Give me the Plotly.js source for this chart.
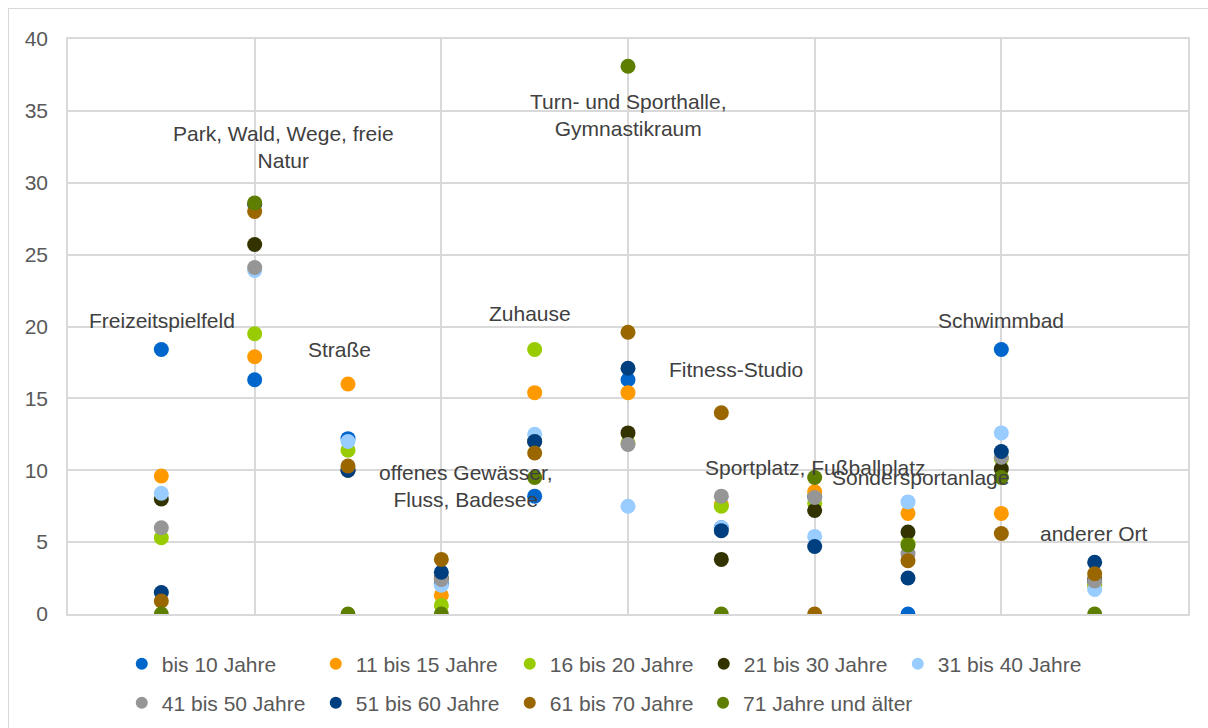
<!DOCTYPE html>
<html>
<head>
<meta charset="utf-8">
<script src="https://cdn.plot.ly/plotly-3.0.1.min.js"></script>
<style>
html, body { margin: 0; padding: 0; overflow: hidden; background: #fff; }
#chart { width: 1208px; height: 728px; }
#frame { position: absolute; left: 8px; top: 8px; width: 1300px; height: 800px; border: 1.5px solid #d9d9d9; pointer-events: none; }
</style>
</head>
<body>
<div id="chart"></div>
<div id="frame"></div>
<script>
// Places (categories) in order along the x axis
const places = [
  "Freizeitspielfeld",
  "Park, Wald, Wege, freie<br>Natur",
  "Straße",
  "offenes Gewässer,<br>Fluss, Badesee",
  "Zuhause",
  "Turn- und Sporthalle,<br>Gymnastikraum",
  "Fitness-Studio",
  "Sportplatz, Fußballplatz",
  "Sondersportanlage",
  "Schwimmbad",
  "anderer Ort"
];
const placeIndex = [1, 2, 3, 4, 5, 6, 7, 8, 9, 10, 11];

const seriesNames = [
  "bis 10 Jahre", "11 bis 15 Jahre", "16 bis 20 Jahre", "21 bis 30 Jahre",
  "31 bis 40 Jahre", "41 bis 50 Jahre", "51 bis 60 Jahre", "61 bis 70 Jahre",
  "71 Jahre und älter"
];

const age_bis10  = [18.4, 16.3, 12.2, 2.1,  8.2, 16.3,  6.0, 8.2,  0.0, 18.4, 2.2];
const age_11_15  = [9.6, 17.9, 16.0, 1.3, 15.4, 15.4,  7.6, 8.5,  7.0,  7.0, 2.0];
const age_16_20  = [5.3, 19.5, 11.4, 0.6, 18.4, 11.9,  7.5, 7.7,  4.9, 10.8, 2.0];
const age_21_30  = [8.0, 25.7, 10.0, 2.5, 12.0, 12.6,  3.8, 7.2,  5.7, 10.1, 2.4];
const age_31_40  = [8.4, 23.9, 12.0, 2.0, 12.5,  7.5,  6.0, 5.4,  7.8, 12.6, 1.7];
const age_41_50  = [6.0, 24.1, 10.1, 2.4, 12.0, 11.8,  8.2, 8.1,  4.2, 10.9, 2.3];
const age_51_60  = [1.5, 28.5, 10.0, 2.9, 12.0, 17.1,  5.8, 4.7,  2.5, 11.3, 3.6];
const age_61_70  = [0.9, 28.0, 10.3, 3.8, 11.2, 19.6, 14.0, 0.0,  3.7,  5.6, 2.8];
const age_71plus = [0.0, 28.6,  0.0, 0.0,  9.5, 38.1,  0.0, 9.5,  4.8,  9.5, 0.0];

const seriesValues = [age_bis10, age_11_15, age_16_20, age_21_30, age_31_40,
                      age_41_50, age_51_60, age_61_70, age_71plus];

// styling (not data)
const colors = ["#0066CC", "#FF9900", "#99CC00", "#333300", "#99CCFF",
                "#969696", "#003F7F", "#996600", "#5E7E00"];
// label placement for each place: [x, y] in data units
const labelPos = [
  [1.01, 20.4], [2.31, 32.5], [2.91, 18.4], [4.26, 8.9], [4.95, 20.9],
  [6.0, 34.7], [7.16, 17.0], [8.01, 10.2], [9.13, 9.5], [10.0, 20.4], [10.99, 5.6]
];

const FONT = "Liberation Sans, Arial, sans-serif";

function legendFor(i) {
  if (i < 5) return "legend";
  if (i < 8) return "legend2";
  return "legend3";
}

const traces = seriesNames.map((name, i) => ({
  type: "scatter",
  mode: "markers",
  name: name,
  x: placeIndex,
  y: seriesValues[i],
  marker: { color: colors[i], size: 15 },
  legend: legendFor(i),
  hoverinfo: "name+y"
}));

const annotations = places.map((t, i) => ({
  x: labelPos[i][0], y: labelPos[i][1], xref: "x", yref: "y",
  text: t, showarrow: false, xanchor: "center", yanchor: "middle",
  font: { family: FONT, size: 21, color: "#404040" }
}));

const legendCommon = {
  orientation: "h", xref: "paper", yref: "paper",
  xanchor: "left", yanchor: "middle",
  entrywidth: 149, entrywidthmode: "pixels",
  itemsizing: "constant", itemwidth: 30,
  font: { family: FONT, size: 21, color: "#595959" },
  bgcolor: "rgba(0,0,0,0)"
};

const layout = {
  width: 1208, height: 728,
  margin: { l: 68, r: 20, t: 39, b: 114, autoexpand: false },
  paper_bgcolor: "#ffffff", plot_bgcolor: "#ffffff",
  font: { family: FONT, size: 21, color: "#595959" },
  showlegend: true,
  xaxis: {
    range: [0, 12], dtick: 2, tick0: 0,
    showgrid: true, gridcolor: "#d9d9d9", gridwidth: 1.5,
    zeroline: false, showline: true, mirror: true, linecolor: "#d9d9d9", linewidth: 1.5,
    showticklabels: false, ticks: "", fixedrange: true
  },
  yaxis: {
    range: [0, 40], dtick: 5, tick0: 0,
    showgrid: true, gridcolor: "#d9d9d9", gridwidth: 1.5,
    zeroline: false, showline: true, mirror: true, linecolor: "#d9d9d9", linewidth: 1.5,
    ticks: "", ticklabelstandoff: 14,
    tickfont: { family: FONT, size: 21, color: "#595959" }, fixedrange: true
  },
  legend: Object.assign({}, legendCommon, { x: 0.048, y: -0.087 }),
  legend2: Object.assign({}, legendCommon, { x: 0.048, y: -0.155 }),
  legend3: Object.assign({}, legendCommon, { entrywidth: 200, x: 0.567, y: -0.155 }),
  annotations: annotations
};

Plotly.newPlot("chart", traces, layout, { displayModeBar: false, staticPlot: false });
</script>
</body>
</html>
